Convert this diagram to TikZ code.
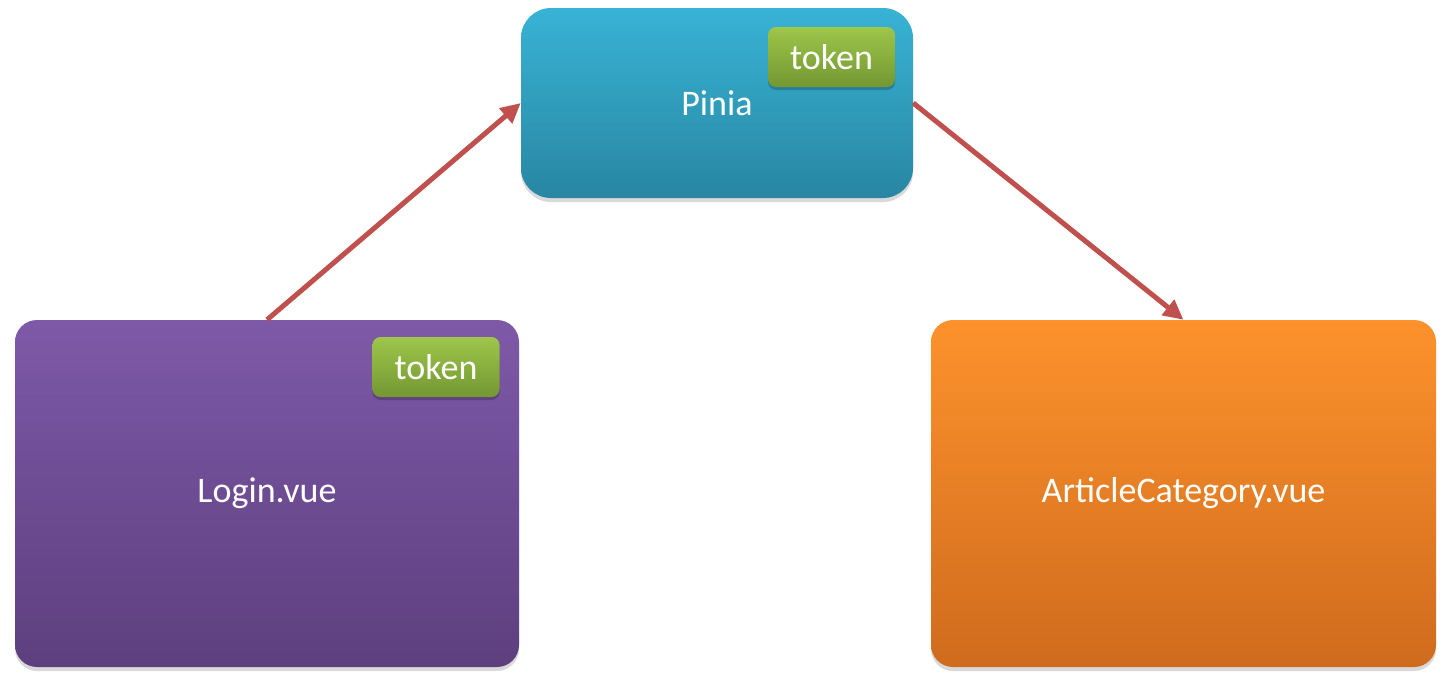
\documentclass[tikz,border=0pt]{standalone}
\usepackage{fontspec}
\setmainfont{Carlito}
\usetikzlibrary{shadings,shadows,arrows.meta}
\definecolor{piniaTop}{HTML}{38B3D5}
\definecolor{piniaBot}{HTML}{2886A2}
\definecolor{loginTop}{HTML}{7E59A8}
\definecolor{loginBot}{HTML}{5D3F7E}
\definecolor{artTop}{HTML}{FD922C}
\definecolor{artBot}{HTML}{CF6B1D}
\definecolor{tokTop}{HTML}{9DC64A}
\definecolor{tokBot}{HTML}{749732}
\definecolor{arrowRed}{HTML}{C0504D}
\tikzset{
  bigbox/.style={rounded corners=22pt, draw=none, text=white,
    font=\fontsize{36}{40}\selectfont,
    drop shadow={shadow xshift=0pt, shadow yshift=-4pt, opacity=0.15, fill=black}},
  tokenbox/.style={rounded corners=8pt, draw=none, text=white,
    top color=tokTop, bottom color=tokBot,
    minimum width=127pt, minimum height=60pt, inner sep=0pt,
    font=\fontsize{36}{40}\selectfont,
    drop shadow={shadow xshift=0pt, shadow yshift=-3pt, opacity=0.2, fill=black}},
  conn/.style={draw=arrowRed, line width=5pt,
    -{Triangle[length=20pt,width=19pt]}}
}
\begin{document}
\begin{tikzpicture}[x=1pt,y=-1pt]
\useasboundingbox (0,0) rectangle (1448,683);
\node[bigbox, top color=piniaTop, bottom color=piniaBot,
  minimum width=392pt, minimum height=190pt, rounded corners=30pt] (pinia) at (717,103) {Pinia};
\node[bigbox, top color=loginTop, bottom color=loginBot,
  minimum width=504pt, minimum height=347pt] (login) at (267,493.5) {Login.vue};
\node[bigbox, top color=artTop, bottom color=artBot,
  minimum width=505pt, minimum height=347pt] (art) at (1183.5,493.5) {ArticleCategory.vue};
\node[tokenbox] (tok1) at (831.5,57) {token};
\node[tokenbox] (tok2) at (436,367) {token};
\draw[conn] (login.north) -- (pinia.west);
\draw[conn] (pinia.east) -- (art.north);
\end{tikzpicture}
\end{document}
